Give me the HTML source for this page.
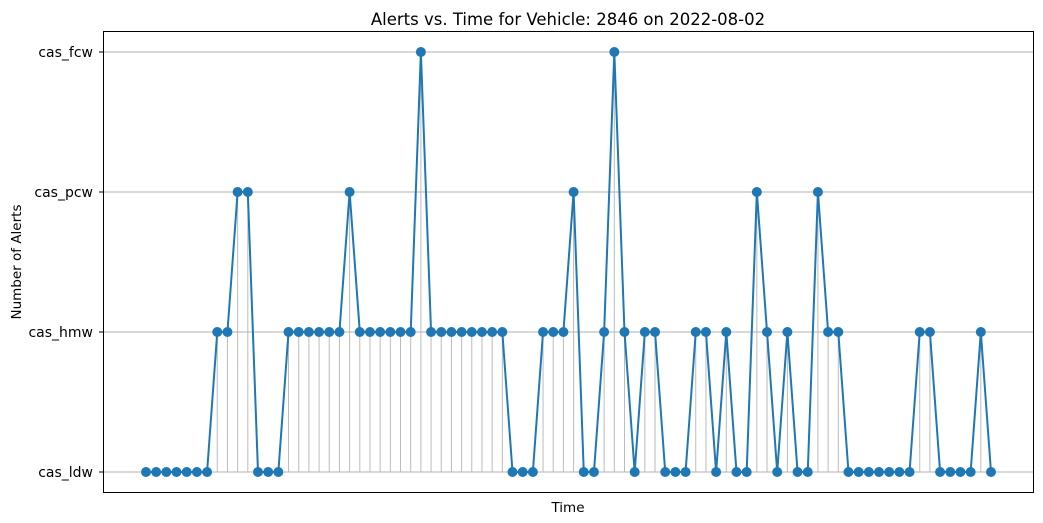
<!DOCTYPE html>
<html><head><meta charset="utf-8"><style>
body{margin:0;background:#fff;}
svg{display:block;font-family:"DejaVu Sans","Liberation Sans",sans-serif;}
</style></head><body>
<svg id="chart" width="1043" height="523" xmlns="http://www.w3.org/2000/svg">
<rect width="1043" height="523" fill="#fff"/>
<text x="568" y="25" font-size="16.5" text-anchor="middle" fill="#000">Alerts vs. Time for Vehicle: 2846 on 2022-08-02</text>
<text x="568" y="512" font-size="13.5" text-anchor="middle" fill="#000">Time</text>
<text transform="translate(21,262) rotate(-90)" font-size="13.5" text-anchor="middle" fill="#000">Number of Alerts</text>
<g id="grid"></g><g id="stems"></g><g id="series"></g><g id="yticks"></g>
<rect x="103.5" y="31.5" width="930" height="461" fill="none" stroke="#000" stroke-width="1"/>
</svg>
<script>
const categories = ["cas_ldw","cas_hmw","cas_pcw","cas_fcw"];
const alertValues = [0,0,0,0,0,0,0,1,1,2,2,0,0,0,1,1,1,1,1,1,2,1,1,1,1,1,1,3,1,1,1,1,1,1,1,1,0,0,0,1,1,1,2,
0,0,1,3,1,0,1,1,0,0,0,1,1,0,1,0,0,2,1,0,1,0,0,2,1,1,0,0,0,0,0,0,0,1,1,0,0,0,0,1,0];
const NS="http://www.w3.org/2000/svg";
const x0=146, x1=991, yBase=472, yStep=140;
function xs(i){return x0+(x1-x0)*i/(alertValues.length-1);}
function ys(v){return yBase-v*yStep;}
function mk(tag,attrs,parent){const e=document.createElementNS(NS,tag);for(const k in attrs)e.setAttribute(k,attrs[k]);document.getElementById(parent).appendChild(e);return e;}
categories.forEach((c,i)=>{
  const g=mk('line',{x1:103.5,x2:1033.5,y1:ys(i),y2:ys(i),stroke:'#b0b0b0','stroke-width':1},'grid');
  
  
  const t=mk('line',{x1:99,x2:103.5,y1:ys(i),y2:ys(i),stroke:'#000','stroke-width':1},'yticks');
  
  
  const l=mk('text',{x:93,y:ys(i)+5,'font-size':14,'text-anchor':'end',fill:'#000'},'yticks');
  l.textContent=c;
  
  
});
alertValues.forEach((v,i)=>{
  if(v>0){
    const s=mk('line',{x1:xs(i),x2:xs(i),y1:ys(0),y2:ys(v),stroke:'#bbbbbb','stroke-width':1},'stems');
    
    
  }
});
const pl=mk('polyline',{points:alertValues.map((v,i)=>xs(i)+','+ys(v)).join(' '),fill:'none',stroke:'#1f77b4','stroke-width':2},'series');


alertValues.forEach((v,i)=>{
  const c=mk('circle',{cx:xs(i),cy:ys(v),r:5,fill:'#1f77b4'},'series');
  
  
});
</script>
</body></html>
